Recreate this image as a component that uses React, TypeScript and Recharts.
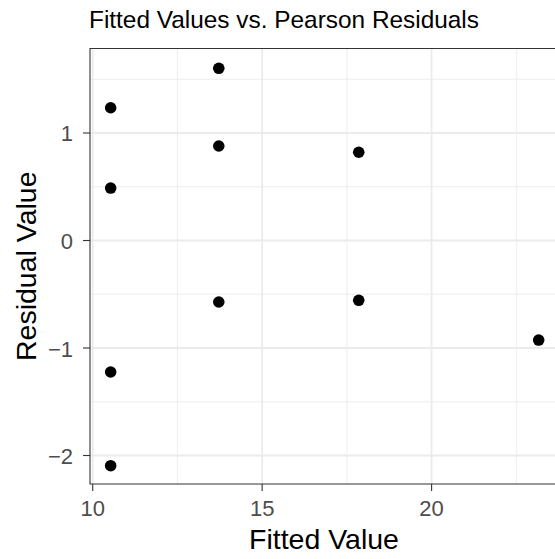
import { ScatterChart, Scatter, XAxis, YAxis, CartesianGrid, ReferenceArea } from 'recharts'

// ── Data ────────────────────────────────────────────────────────────────────

const fittedValues   = [10.53, 10.53, 10.53, 10.53, 13.72, 13.72, 13.72, 17.85, 17.85, 23.16]
const pearsonResids  = [1.235, 0.488, -1.223, -2.095, 1.602, 0.879, -0.572, 0.821, -0.556, -0.926]

const xTicks      = [10, 15, 20]
const xMinorTicks = [12.5, 17.5, 22.5]
const yTicks      = [-2, -1, 0, 1]
const yMinorTicks = [-1.5, -0.5, 0.5, 1.5]

const X_DOMAIN: [number, number] = [9.92, 23.73]
const Y_DOMAIN: [number, number] = [-2.265, 1.786]

const points = fittedValues.map((x, i) => ({ fitted: x, resid: pearsonResids[i] }))

// ── Helpers ─────────────────────────────────────────────────────────────────

const FONT = '"Liberation Sans", Arial, Helvetica, sans-serif'
const fmtNum = (v: number) => (v < 0 ? `\u2212${Math.abs(v)}` : `${v}`)

// eslint-disable-next-line @typescript-eslint/no-explicit-any
const XTick = ({ x, y, payload }: any) => (
  <text x={x} y={y + 23} textAnchor="middle" fill="#4D4D4D" fontSize={22} fontFamily={FONT}>
    {fmtNum(payload.value)}
  </text>
)

// eslint-disable-next-line @typescript-eslint/no-explicit-any
const YTick = ({ x, y, payload }: any) => (
  <text x={x} y={y + 8.5} textAnchor="end" fill="#4D4D4D" fontSize={22} fontFamily={FONT}>
    {fmtNum(payload.value)}
  </text>
)

// eslint-disable-next-line @typescript-eslint/no-explicit-any
const XTitle = ({ viewBox }: any) => (
  <text x={viewBox.x + viewBox.width / 2} y={viewBox.y + 64.5} textAnchor="middle"
    fill="#000" fontSize={28.5} fontFamily={FONT}>
    Fitted Value
  </text>
)

// eslint-disable-next-line @typescript-eslint/no-explicit-any
const YTitle = ({ viewBox }: any) => {
  const cx = 36
  const cy = viewBox.y + viewBox.height / 2
  return (
    <text x={cx} y={cy} transform={`rotate(-90, ${cx}, ${cy})`} textAnchor="middle"
      fill="#000" fontSize={28.5} fontFamily={FONT}>
      Residual Value
    </text>
  )
}

// eslint-disable-next-line @typescript-eslint/no-explicit-any
const Dot = ({ cx, cy }: any) => <circle cx={cx} cy={cy} r={5.8} fill="#000" />

// ── Component ───────────────────────────────────────────────────────────────

export default function App() {
  return (
    <div style={{ position: 'absolute', left: 0, top: 0, width: 555, height: 559, overflow: 'hidden', background: '#fff' }}>
      <div style={{ position: 'absolute', left: 89, top: 2.5, fontFamily: FONT, fontSize: 24.4, lineHeight: '34px', color: '#000', whiteSpace: 'nowrap' }}>
        Fitted Values vs. Pearson Residuals
      </div>
      <ScatterChart width={560} height={559} margin={{ top: 48.5, right: 2, bottom: 0, left: 0 }}>
        <CartesianGrid horizontalValues={yMinorTicks} verticalValues={xMinorTicks} stroke="#EBEBEB" strokeWidth={0.9} />
        <CartesianGrid horizontalValues={yTicks} verticalValues={xTicks} stroke="#EBEBEB" strokeWidth={1.8} />
        <XAxis type="number" dataKey="fitted" domain={X_DOMAIN} ticks={xTicks} allowDataOverflow
          height={75} tickSize={7} tickMargin={2} axisLine={false}
          tickLine={{ stroke: '#333333', strokeWidth: 1.1 }} tick={<XTick />} label={<XTitle />} />
        <YAxis type="number" dataKey="resid" domain={Y_DOMAIN} ticks={yTicks} allowDataOverflow
          width={90} tickSize={7} tickMargin={10} axisLine={false}
          tickLine={{ stroke: '#333333', strokeWidth: 1.1 }} tick={<YTick />} label={<YTitle />} />
        <ReferenceArea x1={X_DOMAIN[0]} x2={X_DOMAIN[1]} y1={Y_DOMAIN[0]} y2={Y_DOMAIN[1]}
          fill="none" stroke="#333333" strokeWidth={1.1} ifOverflow="visible" />
        <Scatter data={points} fill="#000" shape={<Dot />} isAnimationActive={false} />
      </ScatterChart>
    </div>
  )
}
